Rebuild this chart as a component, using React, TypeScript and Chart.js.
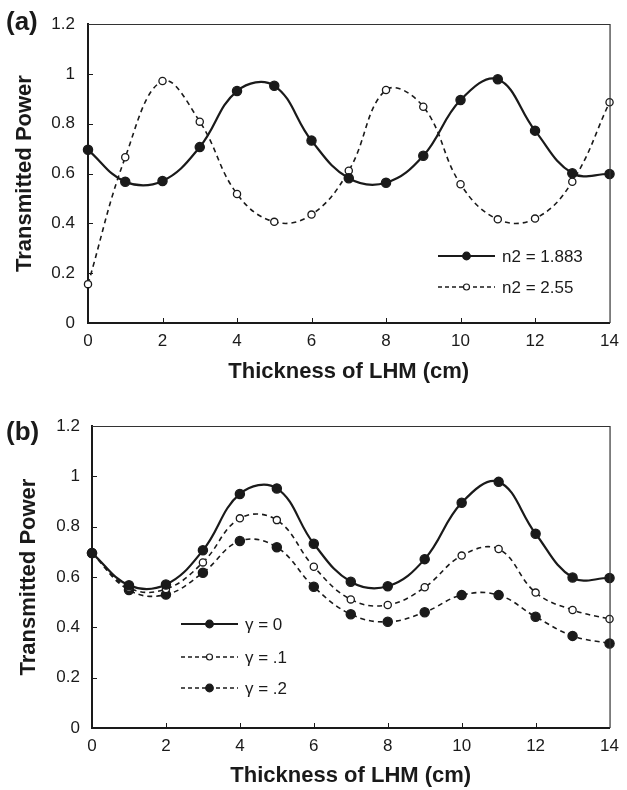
import { useEffect, useRef } from "react";
import { Chart, registerables } from "chart.js";
Chart.register(...registerables);

// ---- data ----
const thickness = [0, 1, 2, 3, 4, 5, 6, 7, 8, 9, 10, 11, 12, 13, 14];
const n2_1883 = [0.695, 0.567, 0.57, 0.706, 0.931, 0.952, 0.732, 0.581, 0.563, 0.671, 0.895, 0.978, 0.772, 0.601, 0.598];
const n2_255 = [0.156, 0.665, 0.971, 0.808, 0.518, 0.406, 0.435, 0.611, 0.935, 0.868, 0.557, 0.416, 0.419, 0.567, 0.886];
const gamma0 = [0.695, 0.567, 0.57, 0.706, 0.93, 0.952, 0.732, 0.581, 0.563, 0.671, 0.895, 0.978, 0.772, 0.598, 0.596];
const gamma01 = [0.695, 0.557, 0.552, 0.658, 0.833, 0.826, 0.641, 0.511, 0.489, 0.559, 0.685, 0.711, 0.538, 0.469, 0.433];
const gamma02 = [0.695, 0.548, 0.53, 0.617, 0.743, 0.718, 0.561, 0.452, 0.422, 0.46, 0.528, 0.528, 0.442, 0.366, 0.336];
const xTickValues = [0, 2, 4, 6, 8, 10, 12, 14];
const yTickValues = [0, 0.2, 0.4, 0.6, 0.8, 1, 1.2];

const FONT = "'Liberation Sans', Arial, Helvetica, sans-serif";
const INK = "#1a1a1a";

type SeriesSpec = { label: string; data: number[]; dashed: boolean; open: boolean };

type PanelSpec = {
  name: string;
  top: number;
  height: number;
  plot: { left: number; top: number; right: number; bottom: number };
  yLabelPad: number;
  panelLabelY: number;
  yTitleX: number;
  xTitleY: number;
  legend: { x1: number; x2: number; textX: number; rows: number[] };
  series: SeriesSpec[];
};

const W = 627;

const panels: PanelSpec[] = [
  {
    name: "(a)",
    top: 0,
    height: 395,
    plot: { left: 88, top: 24, right: 612, bottom: 323 },
    yLabelPad: 13,
    panelLabelY: 23,
    yTitleX: 25,
    xTitleY: 372,
    legend: { x1: 438, x2: 495, textX: 502, rows: [256, 287] },
    series: [
      { label: "n2 = 1.883", data: n2_1883, dashed: false, open: false },
      { label: "n2 = 2.55", data: n2_255, dashed: true, open: true },
    ],
  },
  {
    name: "(b)",
    top: 395,
    height: 395,
    plot: { left: 92, top: 31, right: 618, bottom: 333 },
    yLabelPad: 12,
    panelLabelY: 38,
    yTitleX: 29,
    xTitleY: 381,
    legend: { x1: 181, x2: 238, textX: 245, rows: [229, 262, 293] },
    series: [
      { label: "γ = 0", data: gamma0, dashed: false, open: false },
      { label: "γ = .1", data: gamma01, dashed: true, open: true },
      { label: "γ = .2", data: gamma02, dashed: true, open: false },
    ],
  },
];

function Panel({ spec }: { spec: PanelSpec }) {
  const ref = useRef<HTMLCanvasElement | null>(null);
  useEffect(() => {
    if (!ref.current) return;
    const p = spec.plot;
    const decor = {
      id: "decor",
      afterDraw(chart: any) {
        const ctx = chart.ctx as CanvasRenderingContext2D;
        const area = chart.chartArea;
        const xs = chart.scales.x;
        const ys = chart.scales.y;
        ctx.save();
        // top and right frame lines
        ctx.strokeStyle = "#333";
        ctx.lineWidth = 1.2;
        ctx.beginPath();
        ctx.moveTo(area.left, area.top + 0.5);
        ctx.lineTo(area.right + 0.5, area.top + 0.5);
        ctx.lineTo(area.right + 0.5, area.bottom);
        ctx.stroke();
        // inward ticks
        ctx.strokeStyle = INK;
        ctx.lineWidth = 1;
        ctx.beginPath();
        xTickValues.forEach((v) => {
          if (v === 0 || v === 14) return;
          const x = Math.round(xs.getPixelForValue(v)) + 0.5;
          ctx.moveTo(x, area.bottom);
          ctx.lineTo(x, area.bottom - 5);
        });
        yTickValues.forEach((v) => {
          if (v === 0 || v === 1.2) return;
          const y = Math.round(ys.getPixelForValue(v)) + 0.5;
          ctx.moveTo(area.left, y);
          ctx.lineTo(area.left + 5, y);
        });
        ctx.stroke();
        // legend
        spec.series.forEach((s, i) => {
          const y = spec.legend.rows[i];
          ctx.strokeStyle = INK;
          ctx.lineWidth = s.dashed ? 1.5 : 2;
          ctx.setLineDash(s.dashed ? [4, 3] : []);
          ctx.beginPath();
          ctx.moveTo(spec.legend.x1, y);
          ctx.lineTo(spec.legend.x2, y);
          ctx.stroke();
          ctx.setLineDash([]);
          const mx = (spec.legend.x1 + spec.legend.x2) / 2;
          ctx.beginPath();
          ctx.arc(mx, y, s.open ? 3 : 3.8, 0, Math.PI * 2);
          ctx.fillStyle = s.open ? "#fff" : INK;
          ctx.fill();
          ctx.lineWidth = 1.2;
          ctx.stroke();
          ctx.fillStyle = INK;
          ctx.font = `17px ${FONT}`;
          ctx.textAlign = "left";
          ctx.textBaseline = "middle";
          ctx.fillText(s.label, spec.legend.textX, y + 1);
        });
        // titles
        ctx.fillStyle = INK;
        ctx.font = `bold 22px ${FONT}`;
        ctx.textAlign = "center";
        ctx.textBaseline = "middle";
        ctx.fillText("Thickness of LHM (cm)", (area.left + area.right) / 2, spec.xTitleY);
        ctx.save();
        ctx.translate(spec.yTitleX, (area.top + area.bottom) / 2);
        ctx.rotate(-Math.PI / 2);
        ctx.fillText("Transmitted Power", 0, 0);
        ctx.restore();
        ctx.font = `bold 26px ${FONT}`;
        ctx.textAlign = "left";
        ctx.fillText(spec.name, 6, spec.panelLabelY);
        ctx.restore();
      },
    };
    const chart = new Chart(ref.current, {
      type: "line",
      data: {
        labels: thickness,
        datasets: spec.series.map((s) => ({
          label: s.label,
          data: thickness.map((x, i) => ({ x, y: s.data[i] })),
          borderColor: INK,
          borderWidth: s.dashed ? 1.6 : 2.2,
          borderDash: s.dashed ? [5, 4] : [],
          pointRadius: s.open ? 3.6 : 4.6,
          pointBackgroundColor: s.open ? "#fff" : INK,
          pointBorderColor: INK,
          pointBorderWidth: 1.3,
          tension: 0.4,
          fill: false,
          clip: false as any,
        })),
      },
      options: {
        animation: false,
        responsive: false,
        maintainAspectRatio: false,
        devicePixelRatio: 1,
        layout: { padding: { left: 0, top: p.top, right: W - p.right, bottom: 0 } },
        plugins: { legend: { display: false }, tooltip: { enabled: false } },
        scales: {
          x: {
            type: "linear",
            min: 0,
            max: 14,
            grid: { display: false, drawTicks: false },
            border: { display: true, color: INK, width: 2 },
            ticks: {
              stepSize: 2,
              padding: 8,
              color: INK,
              font: { family: FONT, size: 17 },
              maxRotation: 0,
              callback: (v: any) => String(Math.round(Number(v))),
            },
            afterFit: (scale: any) => {
              scale.height = spec.height - p.bottom;
            },
          },
          y: {
            min: 0,
            max: 1.2,
            grid: { display: false, drawTicks: false },
            border: { display: true, color: INK, width: 2 },
            ticks: {
              stepSize: 0.2,
              padding: spec.yLabelPad,
              color: INK,
              font: { family: FONT, size: 17 },
              callback: (v: any) => String(Number(Number(v).toFixed(1))),
            },
            afterFit: (scale: any) => {
              scale.width = p.left;
            },
          },
        },
      },
      plugins: [decor],
    });
    return () => chart.destroy();
  }, [spec]);
  return (
    <div style={{ position: "absolute", left: 0, top: spec.top, width: W, height: spec.height }}>
      <canvas ref={ref} width={W} height={spec.height} style={{ width: W, height: spec.height, display: "block" }} />
    </div>
  );
}

export default function App() {
  return (
    <div style={{ position: "absolute", left: 0, top: 0, width: W, height: 790, background: "#fff" }}>
      {panels.map((s) => (
        <Panel key={s.name} spec={s} />
      ))}
    </div>
  );
}
